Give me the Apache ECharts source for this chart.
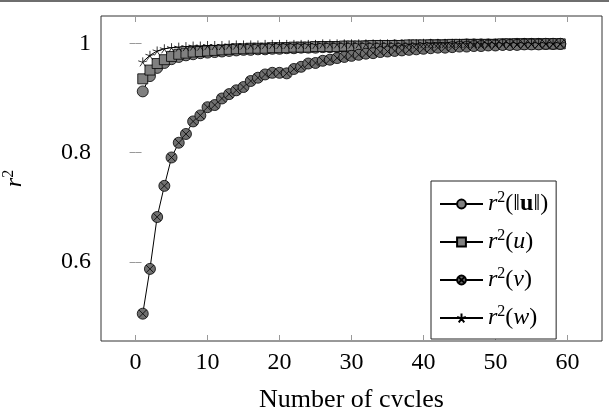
<!DOCTYPE html>
<html>
<head>
<meta charset="utf-8">
<script src="https://cdn.jsdelivr.net/npm/echarts@6/dist/echarts.min.js"></script>
<style>
  html, body { margin: 0; padding: 0; background: #fff; }
  #chart { width: 609px; height: 407px; }
</style>
</head>
<body>
<div id="chart"></div>
<script>
// cycles 1..59
var cycles = [];
for (var c = 1; c <= 59; c++) cycles.push(c);

var rNormU = [0.912, 0.940, 0.955, 0.964, 0.971, 0.975, 0.978, 0.980, 0.982, 0.983,
              0.984, 0.985, 0.986, 0.987, 0.988, 0.988, 0.989, 0.989, 0.990, 0.990,
              0.991, 0.991, 0.992, 0.992, 0.992, 0.993, 0.993, 0.993, 0.994, 0.994,
              0.994, 0.995, 0.995, 0.995, 0.995, 0.996, 0.996, 0.996, 0.996, 0.996,
              0.997, 0.997, 0.997, 0.997, 0.997, 0.998, 0.998, 0.998, 0.998, 0.998,
              0.998, 0.998, 0.999, 0.999, 0.999, 0.999, 0.999, 0.999, 0.999];
var rU = [0.935, 0.951, 0.963, 0.970, 0.976, 0.980, 0.982, 0.984, 0.985, 0.986,
          0.987, 0.988, 0.989, 0.990, 0.990, 0.991, 0.991, 0.991, 0.992, 0.992,
          0.992, 0.993, 0.993, 0.993, 0.994, 0.994, 0.994, 0.994, 0.995, 0.995,
          0.995, 0.995, 0.996, 0.996, 0.996, 0.996, 0.996, 0.997, 0.997, 0.997,
          0.997, 0.997, 0.997, 0.998, 0.998, 0.998, 0.998, 0.998, 0.998, 0.998,
          0.999, 0.999, 0.999, 0.999, 0.999, 0.999, 0.999, 0.999, 0.999];
var rV = [0.505, 0.587, 0.682, 0.739, 0.791, 0.818, 0.834, 0.857, 0.868, 0.883,
          0.887, 0.899, 0.907, 0.914, 0.920, 0.931, 0.937, 0.943, 0.946, 0.946,
          0.945, 0.953, 0.957, 0.963, 0.964, 0.968, 0.970, 0.973, 0.975, 0.977,
          0.979, 0.981, 0.982, 0.984, 0.985, 0.986, 0.987, 0.988, 0.989, 0.990,
          0.991, 0.992, 0.992, 0.993, 0.994, 0.994, 0.995, 0.995, 0.996, 0.996,
          0.997, 0.997, 0.997, 0.998, 0.998, 0.998, 0.999, 0.999, 0.999];
var rW = [0.966, 0.978, 0.986, 0.990, 0.992, 0.993, 0.994, 0.995, 0.995, 0.996,
          0.996, 0.996, 0.997, 0.997, 0.997, 0.997, 0.997, 0.998, 0.998, 0.998,
          0.998, 0.998, 0.998, 0.998, 0.998, 0.999, 0.999, 0.999, 0.999, 0.999,
          0.999, 0.999, 0.999, 0.999, 0.999, 0.999, 0.999, 0.999, 0.999, 1.000,
          1.000, 1.000, 1.000, 1.000, 1.000, 1.000, 1.000, 1.000, 1.000, 1.000,
          1.000, 1.000, 1.000, 1.000, 1.000, 1.000, 1.000, 1.000, 1.000];

var xTicks = [0, 10, 20, 30, 40, 50, 60];
var yTicks = [0.6, 0.8, 1];
var seriesNames = ['normU', 'u', 'v', 'w'];
var legendTexts = {
    normU: '{i|r}{s|2}(‖{b|u}‖)',
    u: '{i|r}{s|2}({i|u})',
    v: '{i|r}{s|2}({i|v})',
    w: '{i|r}{s|2}({i|w})'
};

var FONT = 'Liberation Serif';
var otimes = 'path://M0,-10A10,10 0 1,1 0,10A10,10 0 1,1 0,-10Z M-7.07,-7.07L7.07,7.07 M7.07,-7.07L-7.07,7.07';
var star = 'path://M0,0L0,-10 M0,0L9.51,-3.09 M0,0L5.88,8.09 M0,0L-5.88,8.09 M0,0L-9.51,-3.09';

function pairs(ys) {
    return ys.map(function (y, i) { return [cycles[i], y]; });
}

var richText = {
    i: { fontFamily: FONT, fontStyle: 'italic', fontSize: 24, color: '#000' },
    s: { fontFamily: FONT, fontSize: 16, color: '#000', padding: [0, 0, 12, 0] },
    b: { fontFamily: FONT, fontWeight: 'bold', fontSize: 24, color: '#000' }
};

function mkSeries(name, data, symbol, size, fill) {
    return {
        name: name,
        type: 'line',
        data: pairs(data),
        symbol: symbol,
        symbolSize: size,
        showAllSymbol: true,
        animation: false,
        lineStyle: { color: '#000', width: 1 },
        itemStyle: { color: fill, borderColor: '#000', borderWidth: 0.8, opacity: 1 }
    };
}

var myChart = echarts.init(document.getElementById('chart'));
var option = {
    animation: false,
    graphic: [{
        type: 'rect',
        shape: { x: 0, y: 0, width: 609, height: 2 },
        style: { fill: '#6e6e6e' }
    }],
    grid: {
        left: 101, right: 7, top: 16, bottom: 66,
        containLabel: false, outerBoundsMode: 'none',
        show: true, borderColor: '#333', borderWidth: 1
    },
    legend: {
        orient: 'vertical',
        left: 431,
        top: 181,
        width: 155,
        padding: [9, 8, 9, 8],
        itemGap: 12,
        itemWidth: 43,
        itemHeight: 11,
        borderColor: '#222',
        borderWidth: 1,
        backgroundColor: '#fff',
        data: seriesNames,
        formatter: function (name) { return legendTexts[name]; },
        textStyle: { fontFamily: FONT, fontSize: 24, color: '#000', rich: richText }
    },
    xAxis: [{
        type: 'value',
        min: -4.8,
        max: 64.8,
        position: 'bottom',
        name: 'Number of cycles',
        nameLocation: 'middle',
        nameGap: 46,
        nameTextStyle: { fontFamily: FONT, fontSize: 26, color: '#000' },
        splitLine: { show: false },
        axisLine: { show: false },
        axisTick: { inside: true, length: 6, lineStyle: { color: '#999' }, customValues: xTicks },
        axisLabel: { fontFamily: FONT, fontSize: 24, color: '#000', margin: 10, customValues: xTicks }
    }, {
        type: 'value',
        min: -4.8,
        max: 64.8,
        position: 'top',
        splitLine: { show: false },
        axisLine: { show: false },
        axisTick: { inside: true, length: 6, lineStyle: { color: '#999' }, customValues: xTicks },
        axisLabel: { show: false }
    }],
    yAxis: [{
        type: 'value',
        min: 0.455,
        max: 1.05,
        position: 'left',
        name: '{i|r}{s|2}',
        nameLocation: 'middle',
        nameGap: 72,
        nameRotate: 90,
        nameTextStyle: { fontFamily: FONT, fontSize: 24, color: '#000', rich: richText },
        splitLine: { show: false },
        axisLine: { show: false },
        axisTick: { inside: true, length: 6, lineStyle: { color: '#999' }, customValues: yTicks },
        axisLabel: {
            fontFamily: FONT, fontSize: 24, color: '#000', margin: 10, customValues: yTicks,
            formatter: function (v) { return String(Math.round(v * 10) / 10); }
        }
    }, {
        type: 'value',
        min: 0.455,
        max: 1.05,
        position: 'right',
        splitLine: { show: false },
        axisLine: { show: false },
        axisTick: { inside: true, length: 6, lineStyle: { color: '#999' }, customValues: yTicks },
        axisLabel: { show: false }
    }],
    series: [
        mkSeries('normU', rNormU, 'circle', 11, '#808080'),
        mkSeries('u', rU, 'rect', 10, '#808080'),
        mkSeries('v', rV, otimes, 11, '#707070'),
        mkSeries('w', rW, star, 9, 'none')
    ]
};
myChart.setOption(option);
</script>
</body>
</html>
